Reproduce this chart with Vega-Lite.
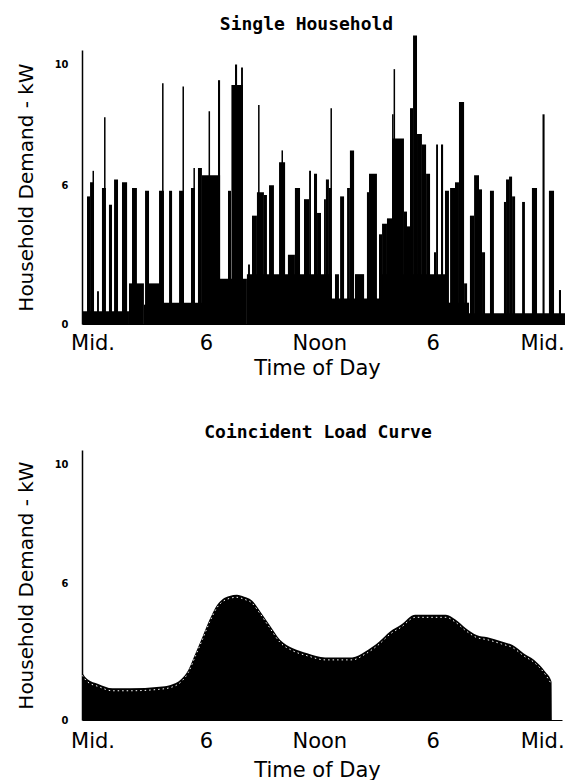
{
  "$schema": "https://vega.github.io/schema/vega-lite/v6.json",
  "background": "white",
  "padding": {"left": 16, "top": 16, "right": 0, "bottom": 0},
  "spacing": 46,
  "config": {
    "view": {"stroke": null},
    "axis": {"grid": false, "ticks": false, "domainColor": "black", "labelColor": "black", "titleColor": "black", "labelFont": "DejaVu Sans", "titleFont": "DejaVu Sans", "titleFontWeight": "normal"},
    "title": {"font": "DejaVu Sans Mono", "fontSize": 18, "color": "black", "frame": "group", "baseline": "alphabetic"}
  },
  "datasets": {
    "house": [
      {"t0": -0.556, "t1": 1.93, "kw": 0.85},
      {"t0": 1.93, "t1": 2.72, "kw": 2.2},
      {"t0": 2.72, "t1": 2.99, "kw": 1.2},
      {"t0": 2.99, "t1": 3.57, "kw": 2.2},
      {"t0": 3.57, "t1": 5.79, "kw": 1.3},
      {"t0": 5.79, "t1": 8.17, "kw": 2.4},
      {"t0": 8.17, "t1": 12.67, "kw": 2.6},
      {"t0": 12.67, "t1": 15.16, "kw": 1.5},
      {"t0": 15.16, "t1": 18.76, "kw": 2.6},
      {"t0": 18.76, "t1": 19.92, "kw": 1.3},
      {"t0": 19.92, "t1": 25.0, "kw": 0.75},
      {"t0": -0.29, "t1": -0.13, "kw": 5.6},
      {"t0": -0.13, "t1": 0.08, "kw": 6.1},
      {"t0": 0.0, "t1": 0.08, "kw": 6.5},
      {"t0": 0.24, "t1": 0.34, "kw": 1.85},
      {"t0": 0.5, "t1": 0.71, "kw": 5.9},
      {"t0": 0.61, "t1": 0.69, "kw": 8.3},
      {"t0": 0.87, "t1": 1.03, "kw": 5.3},
      {"t0": 1.14, "t1": 1.35, "kw": 6.2},
      {"t0": 1.56, "t1": 1.83, "kw": 6.1},
      {"t0": 2.09, "t1": 2.35, "kw": 5.9},
      {"t0": 2.78, "t1": 2.99, "kw": 5.8},
      {"t0": 3.52, "t1": 3.78, "kw": 5.8},
      {"t0": 3.68, "t1": 3.76, "kw": 9.4},
      {"t0": 4.05, "t1": 4.21, "kw": 5.8},
      {"t0": 4.58, "t1": 4.84, "kw": 5.8},
      {"t0": 4.76, "t1": 4.84, "kw": 9.3},
      {"t0": 5.21, "t1": 5.42, "kw": 5.9},
      {"t0": 5.34, "t1": 5.42, "kw": 6.6},
      {"t0": 5.58, "t1": 5.79, "kw": 6.6},
      {"t0": 5.79, "t1": 6.75, "kw": 6.35},
      {"t0": 6.14, "t1": 6.22, "kw": 8.5},
      {"t0": 6.64, "t1": 6.75, "kw": 9.5},
      {"t0": 7.17, "t1": 7.33, "kw": 5.8},
      {"t0": 7.35, "t1": 7.96, "kw": 9.35},
      {"t0": 7.54, "t1": 7.65, "kw": 10.0},
      {"t0": 7.86, "t1": 7.96, "kw": 9.9},
      {"t0": 8.23, "t1": 8.33, "kw": 3.0},
      {"t0": 8.44, "t1": 8.7, "kw": 4.9},
      {"t0": 8.7, "t1": 9.07, "kw": 5.75},
      {"t0": 8.76, "t1": 8.84, "kw": 8.7},
      {"t0": 9.07, "t1": 9.23, "kw": 5.65},
      {"t0": 9.34, "t1": 9.6, "kw": 6.0},
      {"t0": 9.87, "t1": 10.19, "kw": 6.8},
      {"t0": 10.0, "t1": 10.08, "kw": 7.2},
      {"t0": 10.34, "t1": 10.71, "kw": 3.4},
      {"t0": 10.71, "t1": 10.98, "kw": 5.9},
      {"t0": 11.19, "t1": 11.46, "kw": 5.5},
      {"t0": 11.46, "t1": 11.56, "kw": 6.5},
      {"t0": 11.72, "t1": 11.88, "kw": 6.4},
      {"t0": 11.88, "t1": 12.09, "kw": 5.0},
      {"t0": 12.25, "t1": 12.35, "kw": 5.5},
      {"t0": 12.35, "t1": 12.51, "kw": 6.2},
      {"t0": 12.51, "t1": 12.62, "kw": 5.9},
      {"t0": 12.59, "t1": 12.67, "kw": 8.6},
      {"t0": 12.83, "t1": 13.04, "kw": 2.6},
      {"t0": 13.1, "t1": 13.31, "kw": 5.6},
      {"t0": 13.47, "t1": 13.62, "kw": 5.9},
      {"t0": 13.62, "t1": 13.84, "kw": 7.2},
      {"t0": 13.89, "t1": 14.37, "kw": 2.6},
      {"t0": 14.52, "t1": 14.63, "kw": 5.75},
      {"t0": 14.63, "t1": 15.05, "kw": 6.4},
      {"t0": 15.16, "t1": 15.32, "kw": 4.2},
      {"t0": 15.32, "t1": 15.58, "kw": 4.6},
      {"t0": 15.58, "t1": 15.85, "kw": 4.8},
      {"t0": 15.85, "t1": 16.48, "kw": 7.6},
      {"t0": 15.85, "t1": 15.93, "kw": 8.4},
      {"t0": 15.93, "t1": 16.01, "kw": 9.85},
      {"t0": 16.48, "t1": 16.64, "kw": 5.05},
      {"t0": 16.64, "t1": 16.8, "kw": 4.5},
      {"t0": 16.8, "t1": 16.96, "kw": 8.6},
      {"t0": 16.96, "t1": 17.17, "kw": 10.9},
      {"t0": 17.17, "t1": 17.43, "kw": 7.75},
      {"t0": 17.43, "t1": 17.65, "kw": 7.4},
      {"t0": 17.65, "t1": 17.86, "kw": 6.4},
      {"t0": 18.07, "t1": 18.18, "kw": 3.5},
      {"t0": 18.18, "t1": 18.28, "kw": 7.4},
      {"t0": 18.44, "t1": 18.55, "kw": 7.4},
      {"t0": 18.65, "t1": 18.86, "kw": 5.8},
      {"t0": 18.92, "t1": 19.18, "kw": 5.9},
      {"t0": 19.18, "t1": 19.39, "kw": 6.1},
      {"t0": 19.39, "t1": 19.66, "kw": 8.8},
      {"t0": 19.66, "t1": 19.82, "kw": 2.2},
      {"t0": 19.97, "t1": 20.19, "kw": 4.9},
      {"t0": 20.19, "t1": 20.45, "kw": 6.35},
      {"t0": 20.45, "t1": 20.61, "kw": 5.85},
      {"t0": 20.61, "t1": 20.77, "kw": 3.5},
      {"t0": 21.03, "t1": 21.24, "kw": 5.8},
      {"t0": 21.77, "t1": 21.88, "kw": 5.4},
      {"t0": 21.88, "t1": 22.04, "kw": 6.2},
      {"t0": 22.04, "t1": 22.2, "kw": 6.3},
      {"t0": 22.2, "t1": 22.36, "kw": 5.6},
      {"t0": 22.73, "t1": 22.88, "kw": 5.4},
      {"t0": 23.25, "t1": 23.52, "kw": 5.9},
      {"t0": 23.81, "t1": 23.92, "kw": 8.4},
      {"t0": 24.15, "t1": 24.42, "kw": 5.8},
      {"t0": 24.68, "t1": 24.79, "kw": 1.9}
    ],
    "coincident": [
      {"t": -0.556, "kw": 2.52},
      {"t": -0.265, "kw": 2.23},
      {"t": 0.302, "kw": 2.02},
      {"t": 1.058, "kw": 1.82},
      {"t": 2.011, "kw": 1.82},
      {"t": 3.545, "kw": 1.89},
      {"t": 4.127, "kw": 1.97},
      {"t": 4.688, "kw": 2.23},
      {"t": 5.069, "kw": 2.64},
      {"t": 5.45, "kw": 3.34},
      {"t": 5.82, "kw": 4.0},
      {"t": 6.19, "kw": 4.65},
      {"t": 6.593, "kw": 5.21},
      {"t": 6.878, "kw": 5.42},
      {"t": 7.249, "kw": 5.54},
      {"t": 7.64, "kw": 5.58},
      {"t": 8.021, "kw": 5.51},
      {"t": 8.402, "kw": 5.39},
      {"t": 8.884, "kw": 4.96},
      {"t": 9.36, "kw": 4.46},
      {"t": 9.931, "kw": 3.87},
      {"t": 10.598, "kw": 3.54},
      {"t": 11.36, "kw": 3.34},
      {"t": 12.312, "kw": 3.17},
      {"t": 13.741, "kw": 3.17},
      {"t": 14.413, "kw": 3.4},
      {"t": 15.175, "kw": 3.81},
      {"t": 15.746, "kw": 4.2},
      {"t": 16.318, "kw": 4.46},
      {"t": 17.08, "kw": 4.84},
      {"t": 18.699, "kw": 4.84},
      {"t": 19.18, "kw": 4.67},
      {"t": 19.751, "kw": 4.33},
      {"t": 20.317, "kw": 4.07},
      {"t": 20.894, "kw": 3.98},
      {"t": 21.656, "kw": 3.81},
      {"t": 22.222, "kw": 3.67},
      {"t": 22.804, "kw": 3.34},
      {"t": 23.37, "kw": 3.06},
      {"t": 23.942, "kw": 2.57},
      {"t": 24.286, "kw": 2.12},
      {"t": 24.3, "kw": 0}
    ]
  },
  "vconcat": [
    {
      "width": 485,
      "height": 274,
      "title": {"text": "Single Household", "fontWeight": "bold", "dx": -18, "offset": 1},
      "data": {"name": "house"},
      "mark": {"type": "bar", "color": "black"},
      "encoding": {
        "x": {
          "field": "t0", "type": "quantitative",
          "scale": {"domain": [-0.556, 25.106], "nice": false, "zero": false},
          "axis": {"values": [0, 6, 12, 18, 24], "labelExpr": "datum.value == 12 ? 'Noon' : (datum.value == 6 || datum.value == 18) ? '6' : 'Mid.'", "labelFontSize": 21, "labelPadding": 8, "labelFlush": false, "labelOffset": {"condition": {"test": "datum.value == 24", "value": -4}, "value": 0}, "domainWidth": 1, "title": "Time of Day", "titleFontSize": 21, "titlePadding": 4, "titleX": 235}
        },
        "x2": {"field": "t1"},
        "y": {
          "field": "kw", "type": "quantitative", "stack": null,
          "scale": {"type": "pow", "exponent": 1.225, "domain": [0, 10.45], "nice": false},
          "axis": {"values": [0, 6, 10], "labelFont": "DejaVu Sans Condensed", "labelFontWeight": "bold", "labelFontSize": 11, "labelPadding": 14, "domainWidth": 1.5, "title": "Household Demand - kW", "titleFontSize": 20, "titlePadding": 18}
        },
        "y2": {"datum": 0}
      }
    },
    {
      "width": 480,
      "height": 270,
      "title": {"text": "Coincident Load Curve", "fontWeight": "bold", "dx": -4, "offset": 8},
      "data": {"name": "coincident"},
      "encoding": {
        "x": {
          "field": "t", "type": "quantitative",
          "scale": {"domain": [-0.556, 24.84], "nice": false, "zero": false},
          "axis": {"values": [0, 6, 12, 18, 24], "labelExpr": "datum.value == 12 ? 'Noon' : (datum.value == 6 || datum.value == 18) ? '6' : 'Mid.'", "labelFontSize": 21, "labelPadding": 10, "labelFlush": false, "labelOffset": {"condition": {"test": "datum.value == 24", "value": -4}, "value": 0}, "domainWidth": 1, "title": "Time of Day", "titleFontSize": 21, "titlePadding": 8, "titleX": 235}
        },
        "y": {
          "field": "kw", "type": "quantitative", "stack": null,
          "scale": {"type": "pow", "exponent": 1.225, "domain": [0, 10.45], "nice": false},
          "axis": {"values": [0, 6, 10], "labelFont": "DejaVu Sans Condensed", "labelFontWeight": "bold", "labelFontSize": 11, "labelPadding": 14, "domainWidth": 1.5, "title": "Household Demand - kW", "titleFontSize": 20, "titlePadding": 18}
        }
      },
      "layer": [
        {"mark": {"type": "area", "color": "black", "interpolate": "monotone"}},
        {
          "transform": [{"filter": "datum.kw > 0"}],
          "mark": {"type": "line", "color": "white", "strokeWidth": 1, "strokeDash": [1.5, 3], "yOffset": 2.5, "interpolate": "monotone"}
        }
      ]
    }
  ]
}
